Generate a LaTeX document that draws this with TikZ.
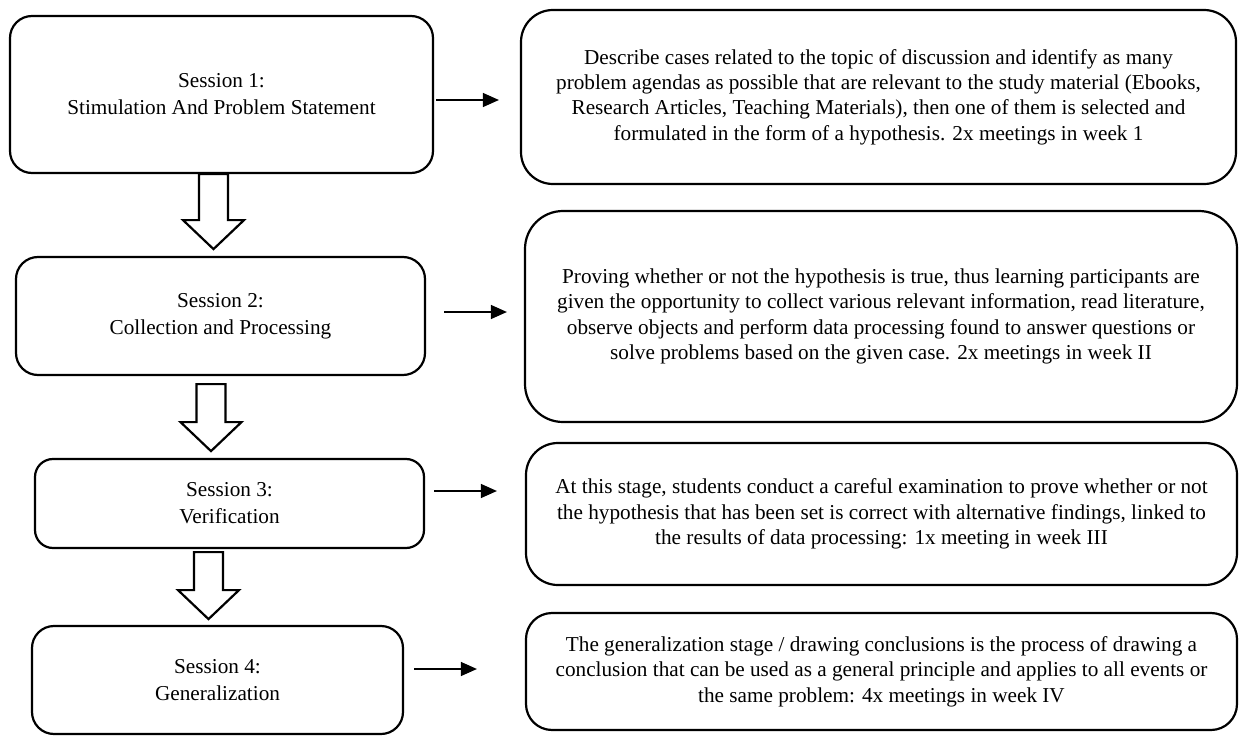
\documentclass[tikz,border=0pt]{standalone}
\usepackage{fontspec}
\setmainfont{Liberation Serif}
\usepackage{tikz}
\usetikzlibrary{arrows.meta,calc}

\tikzset{
    stage/.style={draw, line width=2.2bp, rounded corners=22bp, inner sep=0pt,
        align=center, font=\fontsize{21.3}{27}\selectfont},
    task/.style={stage, rounded corners=32bp, font=\fontsize{21.3}{25.5}\selectfont},
    conn/.style={line width=1.3bp, -{Triangle[length=16bp,width=14bp]}},
    hollow/.style={draw, line width=2.2bp, fill=white, line join=miter}
}
% hollow down arrow: start point, length
\newcommand{\fatarrow}[2]{%
    \draw[hollow] (#1) ++(-14.5,0) -- ++(0,#2-29) -- ++(-16,0) -- ++(30.5,29)
        -- ++(30.5,-29) -- ++(-16,0) -- ++(0,-#2+29) -- cycle;}

\begin{document}
\begin{tikzpicture}[x=1bp, y=-1bp]
            \useasboundingbox (0,0) rectangle (1239,736);

            % sessions
            \node[stage, minimum width=423bp, minimum height=157bp] (S1) at (221.5,94.5)
                {Session 1:\\Stimulation And Problem Statement};
            \node[stage, minimum width=409bp, minimum height=118bp] (S2) at (220.5,316)
                {Session 2:\\Collection and Processing};
            \node[stage, rounded corners=18bp, minimum width=389bp, minimum height=89bp] (S3) at (229.5,503.5)
                {Session 3:\\Verification};
            \node[stage, minimum width=371bp, minimum height=108bp] (S4) at (217.5,680)
                {Session 4:\\Generalization};

            % activities
            \node[task, minimum width=715bp, minimum height=174bp] (T1) at (878.5,97)
                {Describe cases related to the topic of discussion and identify as many\\
                 problem agendas as possible that are relevant to the study material (Ebooks,\\
                 Research Articles, Teaching Materials), then one of them is selected and\\
                 formulated in the form of a hypothesis. 2x meetings in week 1};
            \node[task, rounded corners=38bp, minimum width=712bp, minimum height=211bp] (T2) at (881,316.5)
                {Proving whether or not the hypothesis is true, thus learning participants are\\
                 given the opportunity to collect various relevant information, read literature,\\
                 observe objects and perform data processing found to answer questions or\\
                 solve problems based on the given case. 2x meetings in week II};
            \node[task, minimum width=711bp, minimum height=142bp] (T3) at (881.5,514)
                {At this stage, students conduct a careful examination to prove whether or not\\
                 the hypothesis that has been set is correct with alternative findings, linked to\\
                 the results of data processing: 1x meeting in week III};
            \node[task, rounded corners=26bp, minimum width=711bp, minimum height=117bp] (T4) at (881.5,671.5)
                {The generalization stage / drawing conclusions is the process of drawing a\\
                 conclusion that can be used as a general principle and applies to all events or\\
                 the same problem: 4x meetings in week IV};

            % session -> activity
            \draw[conn] ($(S1.east)+(2,5.5)$) -- ($(S1.east -| T1.west)+(-21,5.5)$);
            \draw[conn] ($(S2.east)+(18,-4)$) -- ($(S2.east -| T2.west)+(-17,-4)$);
            \draw[conn] ($(S3.east)+(9,-12.5)$) -- ($(S3.east -| T3.west)+(-28,-12.5)$);
            \draw[conn] ($(S4.east)+(10,-11)$) -- ($(S4.east -| T4.west)+(-48,-11)$);

            % session -> session
            \fatarrow{$(S1.south)+(-8,0)$}{75}
            \fatarrow{$(S2.south)+(-9.5,8)$}{67}
            \fatarrow{$(S3.south)+(-21,3)$}{67}
        \end{tikzpicture}
\end{document}
